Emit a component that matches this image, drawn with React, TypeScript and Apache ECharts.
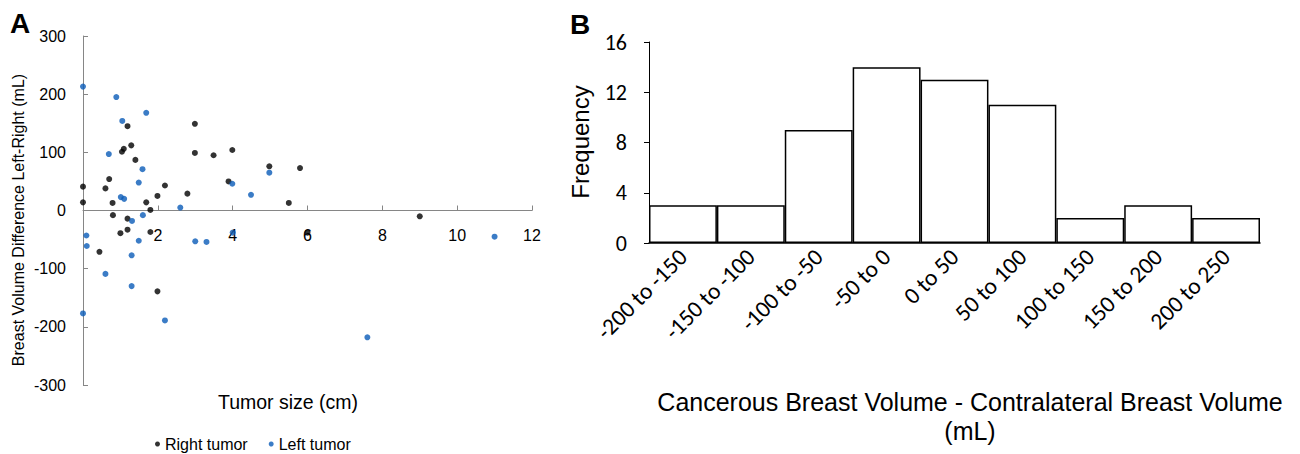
import React, { useEffect, useRef } from "react";
import * as echarts from "echarts";

// Panel A: tumor size (cm) vs breast volume difference (mL)
const rightTumorX = [0, 0, 1.19, 1.29, 1.09, 1.04, 1.4, 0.7, 0.6, 0.79, 1.69, 1.8, 1.99, 2.19, 2.79, 2.99, 2.99, 3.49, 3.89, 3.99, 4.98, 5.5, 5.8, 9, 0.8, 1.19, 1.19, 1.0, 1.8, 0.44, 1.99, 6];
const rightTumorY = [41, 14, 145, 112, 106, 101, 87, 54, 38, 13, 14, 1, 25, 43, 29, 149, 99, 95, 50, 104, 76, 13, 73, -10, -8, -14, -33, -39, -37, -71, -139, -38];
const leftTumorX = [0, 0.89, 1.05, 1.69, 0.69, 1.59, 1.49, 1.01, 1.1, 2.6, 3.99, 4.49, 4.98, 1.31, 1.6, 0.09, 0.1, 1.49, 1.3, 0.6, 1.3, 0, 2.19, 3, 3.3, 11, 7.6, 4];
const leftTumorY = [213, 195, 154, 168, 97, 71, 48, 23, 20, 5, 46, 27, 65, -18, -8, -43, -61, -52, -77, -109, -130, -177, -189, -53, -54, -45, -218, -38];

// Panel B: histogram
const histCategories = ["-200 to -150", "-150 to -100", "-100 to -50", "-50 to 0", "0 to 50", "50 to 100", "100 to 150", "150 to 200", "200 to 250"];
const histFrequency = [3, 3, 9, 14, 13, 11, 2, 3, 2];

const SANS = "'Liberation Sans', Arial, sans-serif";
const NARROW = "Carlito, 'Liberation Sans Narrow', 'Liberation Sans', sans-serif";

export default function App() {
  const ref = useRef<HTMLDivElement>(null);
  useEffect(() => {
    if (!ref.current) return;
    const chart = echarts.init(ref.current, null, { renderer: "svg" });
    const rightData = rightTumorX.map((x, i) => [x, rightTumorY[i]]);
    const leftData = leftTumorX.map((x, i) => [x, leftTumorY[i]]);
    chart.setOption({
      animation: false,
      backgroundColor: "#ffffff",
      textStyle: { fontFamily: SANS },
      grid: [
        { left: 83, top: 36, width: 449, height: 349 },
        { left: 649, top: 42, width: 611, height: 201 },
      ],
      legend: {
        data: ["Right tumor", "Left tumor"],
        left: 155,
        top: 436,
        padding: 0,
        icon: "circle",
        itemWidth: 5,
        itemHeight: 5,
        itemGap: 21,
        textStyle: { fontSize: 16, color: "#000", fontFamily: SANS },
      },
      xAxis: [
        {
          gridIndex: 0,
          type: "value",
          min: 0,
          max: 12,
          interval: 2,
          axisLine: { onZero: true, lineStyle: { color: "#868686", width: 1 } },
          axisTick: { show: true, inside: true, length: 5, lineStyle: { color: "#868686" } },
          axisLabel: {
            formatter: (v: number) => (v === 0 ? "" : String(v)),
            fontSize: 16,
            color: "#000",
            margin: -158,
            fontFamily: SANS,
          },
          splitLine: { show: false },
        },
        {
          gridIndex: 1,
          type: "category",
          data: histCategories,
          axisTick: { show: false },
          axisLine: { lineStyle: { color: "#000", width: 1.5 } },
          axisLabel: {
            rotate: 45,
            interval: 0,
            fontSize: 23.5,
            margin: 10,
            color: "#000",
            fontFamily: NARROW,
          },
          splitLine: { show: false },
        },
      ],
      yAxis: [
        {
          gridIndex: 0,
          type: "value",
          min: -300,
          max: 300,
          interval: 100,
          axisLine: { show: true, lineStyle: { color: "#868686", width: 1 } },
          axisTick: { show: true, inside: true, length: 5, lineStyle: { color: "#868686" } },
          axisLabel: { fontSize: 16, color: "#000", margin: 17, fontFamily: SANS },
          splitLine: { show: false },
        },
        {
          gridIndex: 1,
          type: "value",
          min: 0,
          max: 16,
          interval: 4,
          axisLine: { show: true, lineStyle: { color: "#000", width: 1 } },
          axisTick: { show: true, length: 5, lineStyle: { color: "#000" } },
          axisLabel: { fontSize: 22, color: "#000", margin: 22, fontFamily: NARROW },
          splitLine: { show: false },
        },
      ],
      series: [
        {
          name: "Right tumor",
          type: "scatter",
          xAxisIndex: 0,
          yAxisIndex: 0,
          data: rightData,
          symbolSize: 6,
          itemStyle: { color: "#000000" },
        },
        {
          name: "Left tumor",
          type: "scatter",
          xAxisIndex: 0,
          yAxisIndex: 0,
          data: leftData,
          symbolSize: 6,
          itemStyle: { color: "#0A5BB8" },
        },
        {
          name: "Frequency",
          type: "bar",
          xAxisIndex: 1,
          yAxisIndex: 1,
          data: histFrequency,
          barCategoryGap: 0,
          itemStyle: { color: "#ffffff", borderColor: "#000", borderWidth: 1.5 },
        },
      ],
      graphic: [
        { type: "text", left: 10, top: 9, style: { text: "A", fontSize: 28, fontWeight: "bold", fill: "#000", fontFamily: SANS } },
        { type: "text", left: 570, top: 10, style: { text: "B", fontSize: 28, fontWeight: "bold", fill: "#000", fontFamily: SANS } },
        {
          type: "text",
          x: 18,
          y: 220,
          rotation: Math.PI / 2,
          style: { text: "Breast Volume Difference Left-Right (mL)", fontSize: 16, fill: "#000", fontFamily: SANS, align: "center", verticalAlign: "middle" },
        },
        {
          type: "text",
          x: 288,
          y: 402,
          style: { text: "Tumor size (cm)", fontSize: 19.5, fill: "#000", fontFamily: SANS, align: "center", verticalAlign: "middle" },
        },
        {
          type: "text",
          x: 580,
          y: 142,
          rotation: Math.PI / 2,
          style: { text: "Frequency", fontSize: 24, fill: "#000", fontFamily: SANS, align: "center", verticalAlign: "middle" },
        },
        {
          type: "text",
          x: 970,
          y: 416,
          style: {
            text: "Cancerous Breast Volume - Contralateral Breast Volume\n(mL)",
            fontSize: 25,
            lineHeight: 29,
            fill: "#000",
            fontFamily: SANS,
            align: "center",
            verticalAlign: "middle",
          },
        },
      ],
    });
    return () => chart.dispose();
  }, []);
  return <div ref={ref} style={{ position: "absolute", left: 0, top: 0, width: 1300, height: 454 }} />;
}
